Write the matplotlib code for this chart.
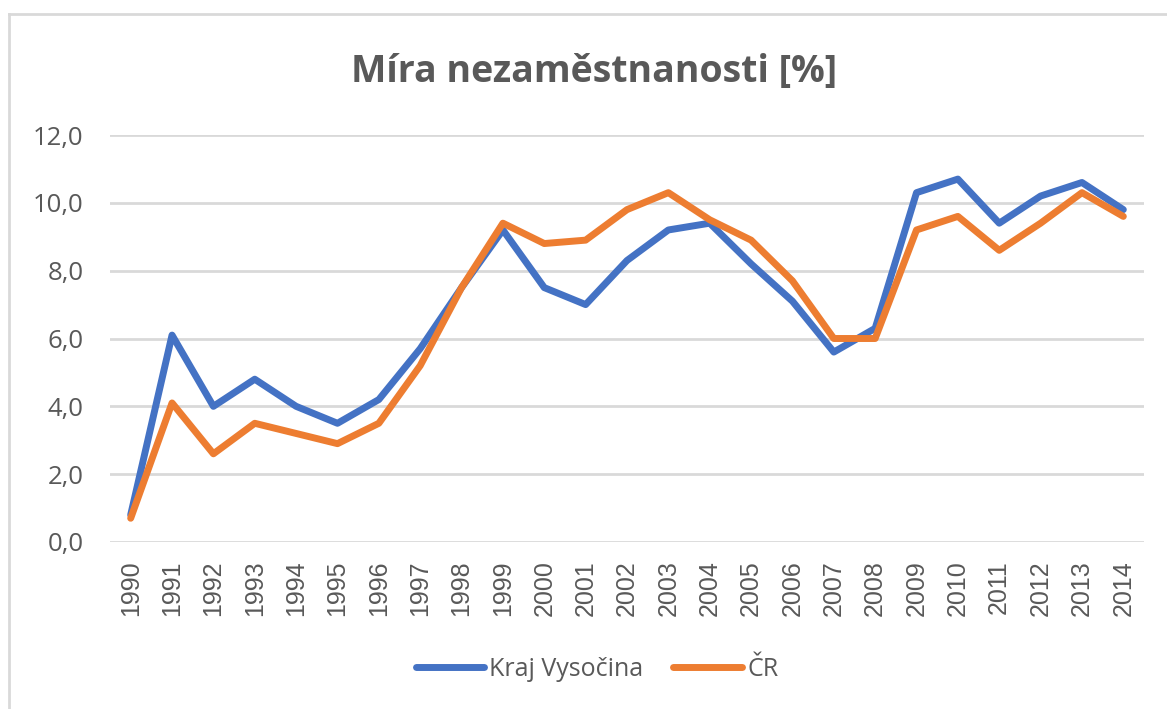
import matplotlib
matplotlib.use("Agg")
import matplotlib.pyplot as plt
from matplotlib.lines import Line2D
from matplotlib.ticker import FuncFormatter

# Data
years = [str(y) for y in range(1990, 2015)]
kraj_vysocina = [0.8, 6.1, 4.0, 4.8, 4.0, 3.5, 4.2, 5.7, 7.5, 9.2,
                 7.5, 7.0, 8.3, 9.2, 9.4, 8.2, 7.1, 5.6, 6.3, 10.3,
                 10.7, 9.4, 10.2, 10.6, 9.8]
cr = [0.7, 4.1, 2.6, 3.5, 3.2, 2.9, 3.5, 5.2, 7.5, 9.4,
      8.8, 8.9, 9.8, 10.3, 9.5, 8.9, 7.7, 6.0, 6.0, 9.2,
      9.6, 8.6, 9.4, 10.3, 9.6]
series_names = ["Kraj Vysočina", "ČR"]
y_ticks = [0, 2, 4, 6, 8, 10, 12]

BLUE = "#4472C4"
ORANGE = "#ED7D31"
GREY_TEXT = "#595959"
GRID = "#D9D9D9"
FONT = ["Open Sans", "DejaVu Sans"]

W, H = 1167, 709
fig = plt.figure(figsize=(W / 100, H / 100), dpi=100)

# chart area border (cropped on right and bottom in the reference)
fig.add_artist(Line2D([9 / W, 1.0], [1 - 14 / H, 1 - 14 / H],
                      transform=fig.transFigure, color=GRID, lw=2))
fig.add_artist(Line2D([9 / W, 9 / W], [0.0, 1 - 14 / H],
                      transform=fig.transFigure, color=GRID, lw=2))

ax = fig.add_axes([110 / W, 1 - 542 / H, (1144 - 110) / W, (542 - 135) / H])
x = list(range(len(years)))
ax.plot(x, kraj_vysocina, color=BLUE, lw=5, solid_joinstyle="round",
        solid_capstyle="round", label=series_names[0], zorder=3)
ax.plot(x, cr, color=ORANGE, lw=5, solid_joinstyle="round",
        solid_capstyle="round", label=series_names[1], zorder=3)

ax.set_xlim(-0.5, len(years) - 0.5)
ax.set_ylim(0, 12)
ax.set_yticks(y_ticks)
ax.yaxis.set_major_formatter(FuncFormatter(lambda v, p: f"{v:.1f}".replace(".", ",")))
ax.set_xticks(x)
ax.set_xticklabels(years, rotation=90, family=["Liberation Sans", "DejaVu Sans"],
                   fontsize=18, color=GREY_TEXT)
for lab in ax.get_yticklabels():
    lab.set_family(FONT)
    lab.set_fontsize(18.5)
    lab.set_color(GREY_TEXT)
ax.tick_params(axis="both", length=0)
ax.tick_params(axis="y", pad=19)
ax.tick_params(axis="x", pad=13)
ax.grid(axis="y", color=GRID, lw=2)
ax.set_axisbelow(True)
for s in ax.spines.values():
    s.set_visible(False)

fig.text(594 / W, 1 - 72 / H, "Míra nezaměstnanosti [%]", ha="center", va="center",
         fontsize=27, fontweight="bold", color=GREY_TEXT, family=FONT)

leg = fig.legend(loc="center", bbox_to_anchor=(597 / W, 1 - 669 / H), ncol=2,
                 frameon=False, prop={"family": FONT, "size": 18},
                 handlelength=2.75, handletextpad=0.2, columnspacing=1.2)
for t in leg.get_texts():
    t.set_color(GREY_TEXT)

fig.savefig("out.png", dpi=100, facecolor="white")
